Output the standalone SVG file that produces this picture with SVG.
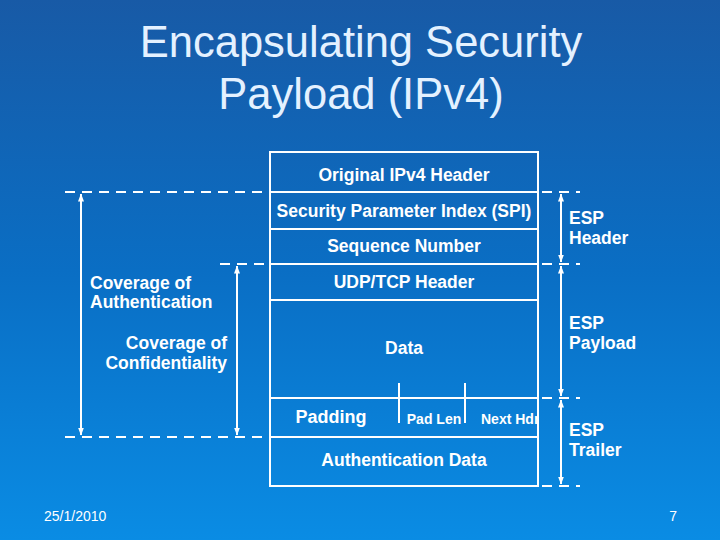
<svg xmlns="http://www.w3.org/2000/svg" width="720" height="540" viewBox="0 0 720 540">
<defs>
<linearGradient id="bg" x1="0" y1="0" x2="0" y2="1">
<stop offset="0" stop-color="#185aa6"/>
<stop offset="0.5" stop-color="#0a6ec4"/>
<stop offset="1" stop-color="#0a8ce4"/>
</linearGradient>
<clipPath id="boxclip"><rect x="270" y="152" width="267" height="334"/></clipPath>
<marker id="ah" viewBox="0 0 8 8" refX="7.5" refY="4" markerWidth="8" markerHeight="8" markerUnits="userSpaceOnUse" orient="auto-start-reverse">
<path d="M0,1 L8,4 L0,7 Z" fill="#ffffff"/>
</marker>
<style>
.t{font-family:"Liberation Sans",Arial,sans-serif;fill:#ffffff}
.b{font-weight:bold;font-size:17.5px}
.title{font-family:"Liberation Sans",Arial,sans-serif;font-size:43.5px;fill:#e4f1ff}
.box{fill:none;stroke:#ffffff;stroke-width:2}
.ln{stroke:#ffffff;stroke-width:2}
.dash{stroke:#ffffff;stroke-width:2;stroke-dasharray:10,7;fill:none}
.arr{stroke:#ffffff;stroke-width:2;marker-start:url(#ah);marker-end:url(#ah)}
</style>
</defs>
<rect width="720" height="540" fill="url(#bg)"/>
<g id="title">
<text class="title" x="361" y="57" text-anchor="middle">Encapsulating Security</text>
<text class="title" x="361" y="109" text-anchor="middle">Payload (IPv4)</text>
</g>
<g id="packet">
<rect class="box" x="270" y="152" width="268" height="334"/>
<line class="ln" x1="270" y1="192" x2="538" y2="192"/>
<line class="ln" x1="270" y1="229" x2="538" y2="229"/>
<line class="ln" x1="270" y1="264" x2="538" y2="264"/>
<line class="ln" x1="270" y1="300" x2="538" y2="300"/>
<line class="ln" x1="270" y1="398" x2="538" y2="398"/>
<line class="ln" x1="270" y1="437" x2="538" y2="437"/>
<line class="ln" x1="399" y1="383" x2="399" y2="423"/>
<line class="ln" x1="465" y1="383" x2="465" y2="423"/>
</g>
<g id="n-ipv4"><text class="t b" x="404" y="181" text-anchor="middle">Original IPv4 Header</text></g>
<g id="n-spi"><text class="t b" x="404" y="217" text-anchor="middle">Security Parameter Index (SPI)</text></g>
<g id="n-seq"><text class="t b" x="404" y="252" text-anchor="middle">Sequence Number</text></g>
<g id="n-udp"><text class="t b" x="404" y="288" text-anchor="middle">UDP/TCP Header</text></g>
<g id="n-data"><text class="t b" x="404" y="354" text-anchor="middle">Data</text></g>
<g id="n-pad"><text class="t" x="331" y="423" text-anchor="middle" font-size="18" font-weight="bold">Padding</text></g>
<g id="n-padlen"><text class="t" x="434" y="424" text-anchor="middle" font-size="14" font-weight="bold">Pad Len</text></g>
<g id="n-next"><text class="t" x="481" y="424" font-size="14" font-weight="bold" clip-path="url(#boxclip)">Next Hdr</text></g>
<g id="n-auth"><text class="t b" x="404" y="466" text-anchor="middle">Authentication Data</text></g>
<g id="connectors">
<line class="dash" x1="65" y1="192" x2="270" y2="192"/>
<line class="dash" x1="65" y1="437" x2="270" y2="437"/>
<line class="dash" x1="220" y1="264" x2="270" y2="264"/>
<line class="dash" x1="542" y1="192" x2="580" y2="192"/>
<line class="dash" x1="542" y1="264" x2="580" y2="264"/>
<line class="dash" x1="542" y1="398" x2="580" y2="398"/>
<line class="dash" x1="542" y1="486" x2="580" y2="486"/>
<line class="arr" x1="81" y1="194" x2="81" y2="435"/>
<line class="arr" x1="237" y1="266" x2="237" y2="435"/>
<line class="arr" x1="561" y1="194" x2="561" y2="262"/>
<line class="arr" x1="561" y1="266" x2="561" y2="396"/>
<line class="arr" x1="561" y1="400" x2="561" y2="484"/>
</g>
<g id="l-authcov">
<text class="t b" x="90" y="289">Coverage of</text>
<text class="t b" x="90" y="308">Authentication</text>
</g>
<g id="l-confcov">
<text class="t b" x="227" y="349" text-anchor="end">Coverage of</text>
<text class="t b" x="227" y="369" text-anchor="end">Confidentiality</text>
</g>
<g id="l-esph">
<text class="t b" x="569" y="224">ESP</text>
<text class="t b" x="569" y="244">Header</text>
</g>
<g id="l-espp">
<text class="t b" x="569" y="329">ESP</text>
<text class="t b" x="569" y="349">Payload</text>
</g>
<g id="l-espt">
<text class="t b" x="569" y="436">ESP</text>
<text class="t b" x="569" y="456">Trailer</text>
</g>
<g id="footer">
<text class="t" x="44" y="521" font-size="14">25/1/2010</text>
<text class="t" x="677" y="521" font-size="14" text-anchor="end">7</text>
</g>
</svg>
